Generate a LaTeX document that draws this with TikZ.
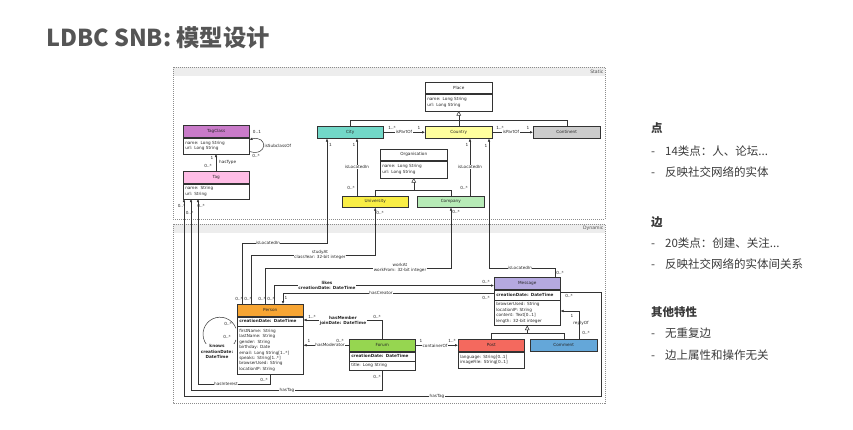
\documentclass[tikz,border=0pt]{standalone}
\usepackage{fontspec}
\setmainfont{DejaVu Sans}
\newfontfamily\cjk{Noto Sans CJK SC}
\usetikzlibrary{arrows.meta,calc}
\definecolor{lc}{HTML}{333333}
\definecolor{cTagClass}{HTML}{C97BC9}
\definecolor{cTag}{HTML}{FFBDE6}
\definecolor{cCity}{HTML}{72D8C8}
\definecolor{cCountry}{HTML}{FFFF9E}
\definecolor{cContinent}{HTML}{CCCCCC}
\definecolor{cUniv}{HTML}{F9EE46}
\definecolor{cCompany}{HTML}{B7EBB7}
\definecolor{cPerson}{HTML}{F7A533}
\definecolor{cForum}{HTML}{96D650}
\definecolor{cMessage}{HTML}{B5A9E0}
\definecolor{cPost}{HTML}{F4695E}
\definecolor{cComment}{HTML}{64A7D9}
\definecolor{cFrame}{HTML}{EDEDED}
\definecolor{cTitle}{HTML}{555555}
\definecolor{cText}{HTML}{3A3A3A}
\newcommand{\dfs}{\fontsize{4.2}{5.4}\selectfont}
\begin{document}
\begin{tikzpicture}[x=1pt,y=-1pt,
  title/.style={draw=lc, line width=0.5pt, anchor=north west, inner sep=0pt, font=\dfs, text=black!85},
  attr/.style={draw=lc, line width=0.5pt, anchor=north west, inner xsep=2pt, inner ysep=0pt, align=left, font=\dfs, text=black!85, text width=#1},
  ln/.style={draw=lc, line width=0.5pt},
  arr/.style={ln, -{Latex[length=3pt,width=2.6pt]}},
  gen/.style={ln, -{Triangle[open,length=4.5pt,width=4.5pt,fill=white]}},
  lbl/.style={font=\dfs, inner sep=0.4pt, text=black!85},
  lblw/.style={lbl, fill=white},
  lblb/.style={lbl, fill=white, font=\dfs\bfseries, align=center},
  lblc/.style={lbl, fill=white, align=center},
  frame/.style={draw=black!45, dash pattern=on 1pt off 1pt, line width=0.4pt},
  hd/.style={anchor=west, inner sep=0pt, font=\cjk\bfseries\fontsize{11.5}{12}\selectfont, text=cText},
  bl/.style={anchor=west, inner sep=0pt, font=\cjk\fontsize{11.5}{12}\selectfont, text=cText},
]
\path[use as bounding box] (0,0) rectangle (853,429);

% title
\node[anchor=west, inner sep=0pt, font=\cjk\bfseries\fontsize{23.3}{26}\selectfont, text=cTitle] (ttl) at (46,38) {LDBC SNB: 模型设计};

% frames
\fill[cFrame] (173,67) rectangle (605,76);
\draw[frame] (173,67) rectangle (605,219);
\node[lbl, anchor=east, font=\fontsize{4.6}{5}\selectfont, text=black!70] (staticlbl) at (604,71.5) {Static};
\fill[cFrame] (173,224) rectangle (605,233);
\draw[frame] (173,224) rectangle (605,403);
\node[lbl, anchor=east, font=\fontsize{4.6}{5}\selectfont, text=black!70] (dynlbl) at (604,228.5) {Dynamic};

% ---------- static classes
\node[title, fill=cTagClass, minimum width=66pt, minimum height=12pt] (tagclass) at (183,125) {TagClass};
\node[attr=62pt, minimum height=16pt] (tagclassA) at (tagclass.south west) {name: Long String\\url: Long String};
\node[title, fill=cTag, minimum width=66pt, minimum height=12pt] (tag) at (183,171) {Tag};
\node[attr=62pt, minimum height=15pt] (tagA) at (tag.south west) {name: String\\url: String};

\node[title, fill=white, minimum width=67pt, minimum height=11pt] (place) at (425,82) {Place};
\node[attr=63pt, minimum height=17pt] (placeA) at (place.south west) {name: Long String\\url: Long String};

\node[title, fill=cCity, minimum width=66pt, minimum height=12pt] (city) at (317,126) {City};
\node[title, fill=cCountry, minimum width=67pt, minimum height=12pt] (country) at (425,126) {Country};
\node[title, fill=cContinent, minimum width=67pt, minimum height=12pt] (continent) at (533,126) {Continent};

\node[title, fill=white, minimum width=67pt, minimum height=11pt] (org) at (380,149) {Organisation};
\node[attr=63pt, minimum height=17pt] (orgA) at (org.south west) {name: Long String\\url: Long String};
\node[title, fill=cUniv, minimum width=66pt, minimum height=11pt] (univ) at (342,196) {University};
\node[title, fill=cCompany, minimum width=67pt, minimum height=11pt] (company) at (417,196) {Company};

% ---------- dynamic classes
\node[title, fill=cPerson, minimum width=66pt, minimum height=12pt] (person) at (237,304) {Person};
\node[attr=62pt, minimum height=9pt, font=\dfs\bfseries] (personC) at (person.south west) {creationDate: DateTime};
\node[attr=62pt, minimum height=48pt] (personA) at (personC.south west) {firstName: String\\lastName: String\\gender: String\\birthday: Date\\email: Long String[1..*]\\speaks: String[1..*]\\browserUsed: String\\locationIP: String};

\node[title, fill=cForum, minimum width=66pt, minimum height=12pt] (forum) at (349,339) {Forum};
\node[attr=62pt, minimum height=9pt, font=\dfs\bfseries] (forumC) at (forum.south west) {creationDate: DateTime};
\node[attr=62pt, minimum height=9pt] (forumA) at (forumC.south west) {title: Long String};

\node[title, fill=cMessage, minimum width=66pt, minimum height=12pt] (message) at (494,277) {Message};
\node[attr=62pt, minimum height=10pt, font=\dfs\bfseries] (messageC) at (message.south west) {creationDate: DateTime};
\node[attr=62pt, minimum height=25pt] (messageA) at (messageC.south west) {browserUsed: String\\locationIP: String\\content: Text[0..1]\\length: 32-bit integer};

\node[title, fill=cPost, minimum width=66pt, minimum height=12pt] (post) at (458,339) {Post};
\node[attr=62pt, minimum height=16pt] (postA) at (post.south west) {language: String[0..1]\\imageFile: String[0..1]};
\node[title, fill=cComment, minimum width=67pt, minimum height=12pt] (comment) at (530,339) {Comment};

% ---------- static connectors
\draw[ln] (city.north) |- (continent.north |- 0,120) -- (continent.north);
\draw[gen] (country.north) -- (placeA.south);
\draw[ln] (univ.north) |- (company.north |- 0,190) -- (company.north);
\draw[gen] (orgA.south |- 0,190) -- (orgA.south);

\draw[arr] (216,0 |- tag.north) -- (216,0 |- tagclassA.south);
\draw[arr] ($(tagclassA.north east)+(0,14)$) .. controls (268,157) and (268,135) .. ($(tagclassA.north east)+(0,2)$);

\draw[arr] (city.east) -- (country.west);
\draw[arr] (country.east) -- (continent.west);
\draw[arr] (357,0 |- univ.north) -- (357,0 |- city.south);
\draw[arr] (470,0 |- company.north) -- (470,0 |- country.south);

% ---------- cross connectors
\draw[arr] (242,0 |- person.north) |- (327,243) -- (327,0 |- city.south);
\draw[arr] (251,0 |- person.north) |- (univ.south |- 0,255) -- (univ.south);
\draw[arr] (265,0 |- person.north) |- (451,268) -- (451,0 |- company.south);
\draw[arr] (555,0 |- message.north) |- (489,268) -- (489,0 |- country.south);
\draw[arr] (198,0 |- personA.south) ++(72,0) |- (198,384) -- (198,0 |- tagA.south);
\draw[arr] (382,0 |- forumA.south) |- (191,390) -- (191,0 |- tagA.south);
\draw[arr] (messageC.east |- 0,292) -| (601,396) -| (184,0 |- tagA.south);

% ---------- dynamic connectors
\draw[arr] (274,0 |- person.north) |- (message.west |- 0,285.5);
\draw[arr] (message.west |- 0,293) -| (283,0 |- person.north);
\draw[arr] (382,0 |- forum.north) |- (personC.east |- 0,320);
\draw[arr] (forum.west) -- (personA.east |- forum.west);
\draw[arr] (forum.east) -- (post.west);
\draw[arr] (579,0 |- comment.north) |- (messageA.east |- 0,311);
\draw[ln] (post.north) |- (comment.north |- 0,333) -- (comment.north);
\draw[gen] (messageA.south |- 0,333) -- (messageA.south);
\draw[ln] ($(personA.north west)+(-1,14)$) arc[start angle=20, end angle=340, radius=17];

% ---------- labels static
\node[lbl] (l1) at (212,157.5) {1};
\node[lbl] (l2) at (208,165.5) {0..*};
\node[lbl, anchor=west] (l3) at (218.5,162) {hasType};
\node[lbl] (l4) at (257,132) {0..1};
\node[lbl] (l5) at (256,155.5) {0..*};
\node[lbl, anchor=west] (l6) at (264,146) {isSubclassOf};
\node[lbl] (l7) at (181.5,206) {0..*};
\node[lbl] (l8) at (189.5,213) {0..*};
\node[lbl] (l9) at (201,206) {0..*};
\node[lbl] (l10) at (330.5,145) {1};
\node[lbl] (l11) at (354,144.5) {1};
\node[lbl] (l12) at (392,128) {1..*};
\node[lblw] (l13) at (404,132) {isPartOf};
\node[lbl] (l14) at (419,128) {1};
\node[lbl] (l15) at (500,128) {1..*};
\node[lblw] (l16) at (511,132) {isPartOf};
\node[lbl] (l17) at (528,128) {1};
\node[lblw] (l18) at (357,167) {isLocatedIn};
\node[lbl] (l19) at (351,188) {0..*};
\node[lbl] (l20) at (467,145) {1};
\node[lblw] (l21) at (470,167) {isLocatedIn};
\node[lbl] (l22) at (464,188) {0..*};
\node[lbl] (l23) at (486,146) {1};
\node[lbl] (l24) at (380,213) {0..*};
\node[lbl] (l25) at (456,212) {0..*};

% ---------- labels dynamic
\node[lblw] (m1) at (268,243) {isLocatedIn};
\node[lblc] (m2) at (320,255) {studyAt\\classYear: 32-bit integer};
\node[lblc] (m3) at (400,268) {workAt\\workFrom: 32-bit integer};
\node[lblb] (m4) at (327,285.5) {likes\\creationDate: DateTime};
\node[lblw] (m5) at (381,293) {hasCreator};
\node[lbl] (m6) at (239,299) {0..*};
\node[lbl] (m7) at (248,299) {0..*};
\node[lbl] (m8) at (262,299) {0..*};
\node[lbl] (m9) at (271,299) {0..*};
\node[lbl] (m10) at (286,298) {1};
\node[lblw] (m11) at (520,268) {isLocatedIn};
\node[lbl] (m12) at (560,273) {0..*};
\node[lbl] (m13) at (486,282) {0..*};
\node[lbl] (m14) at (486,298) {0..*};
\node[lbl] (m15) at (569,296) {0..*};
\node[lblb] (m16) at (343,321) {hasMember\\joinDate: DateTime};
\node[lbl] (m17) at (312,317) {1..*};
\node[lbl] (m18) at (377,317) {0..*};
\node[lblw] (m19) at (330,345) {hasModerator};
\node[lbl] (m20) at (309,341) {1};
\node[lbl] (m21) at (340,341) {0..*};
\node[lblw] (m22) at (435,345.5) {containerOf};
\node[lbl] (m23) at (421,341) {1};
\node[lbl] (m24) at (452,341) {1..*};
\node[lbl] (m25) at (572,316) {1};
\node[lbl] (m26) at (581,323) {replyOf};
\node[lbl] (m27) at (586,333) {0..*};
\node[lblw] (m28) at (226,384) {hasInterest};
\node[lbl] (m29) at (264,380) {0..*};
\node[lblw] (m30) at (287,390) {hasTag};
\node[lbl] (m31) at (377,377) {0..*};
\node[lblw] (m32) at (437,396) {hasTag};
\node[lbl] (m33) at (228,324) {0..*};
\node[lbl] (m34) at (227,337) {0..*};
\node[lblb] (m35) at (217,351.5) {knows\\creationDate:\\DateTime};

% ---------- right text
\node[hd] (h1) at (651,128) {点};
\node[bl] (b1) at (651,151) {\makebox[14pt][l]{-}14类点：人、论坛...};
\node[bl] (b2) at (651,172) {\makebox[14pt][l]{-}反映社交网络的实体};
\node[hd] (h2) at (651,222) {边};
\node[bl] (b3) at (651,243) {\makebox[14pt][l]{-}20类点：创建、关注...};
\node[bl] (b4) at (651,264) {\makebox[14pt][l]{-}反映社交网络的实体间关系};
\node[hd] (h3) at (651,312) {其他特性};
\node[bl] (b5) at (651,333) {\makebox[14pt][l]{-}无重复边};
\node[bl] (b6) at (651,355) {\makebox[14pt][l]{-}边上属性和操作无关};
\end{tikzpicture}
\end{document}
